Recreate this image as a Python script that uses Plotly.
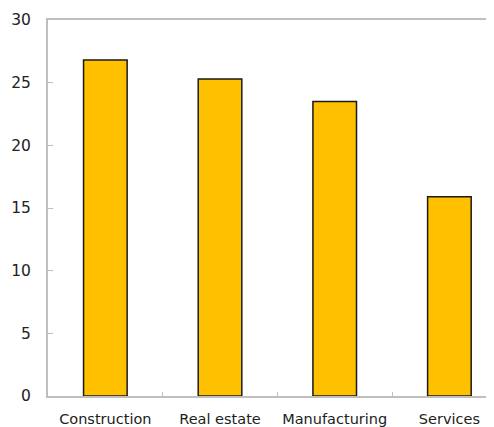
import plotly.graph_objects as go

categories = ["Construction", "Real estate", "Manufacturing", "Services"]
values = [26.8, 25.3, 23.5, 15.9]
y_ticks = [0, 5, 10, 15, 20, 25, 30]

fig = go.Figure(go.Bar(
    x=categories, y=values, width=0.38,
    marker=dict(color="#FFC000", line=dict(color="#1a1a1a", width=1.5)),
))
fig.update_layout(
    width=486, height=419, margin=dict(l=40, r=0, t=12, b=31),
    paper_bgcolor="white", plot_bgcolor="white", showlegend=False,
    font=dict(family="DejaVu Sans", size=14, color="#222222"),
)
fig.update_xaxes(
    range=[-0.5, 3.389], showline=True, linecolor="#bfbfbf", linewidth=2,
    mirror=True, ticks="inside", tickson="boundaries", ticklen=4,
    tickcolor="#bfbfbf", showgrid=False, tickfont=dict(size=14.5),
    automargin=False, ticklabelstandoff=9,
)
fig.update_yaxes(
    range=[0, 30], tickvals=y_ticks, showline=True, linecolor="#bfbfbf",
    linewidth=2, ticks="inside", ticklen=5, tickcolor="#bfbfbf",
    showgrid=False, zeroline=False, tickfont=dict(size=15.5),
    ticklabelstandoff=12, automargin=False,
)
fig.write_html("out.html")
